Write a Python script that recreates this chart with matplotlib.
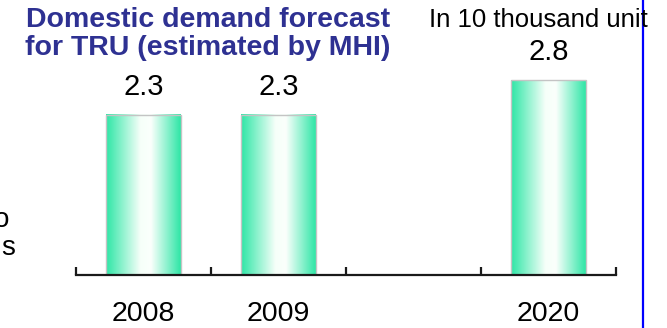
import numpy as np
import matplotlib
matplotlib.use("Agg")
import matplotlib.pyplot as plt
from matplotlib.colors import LinearSegmentedColormap

plt.rcParams['font.family'] = ['Liberation Sans', 'DejaVu Sans']

# Demand figures (in 10 thousand units); the third slot is an empty gap
years = ["2008", "2009", "", "2020"]
demand = [2.3, 2.3, np.nan, 2.8]
value_labels = ["2.3", "2.3", "", "2.8"]

title = "Domestic demand forecast\nfor TRU (estimated by MHI)"
unit_note = "In 10 thousand unit"

W, H = 667, 328
fig = plt.figure(figsize=(W / 100, H / 100), dpi=100)

# axes placed in pixel terms
ax_left, ax_right = 76, 616
ax_base = 275
ymax = 3.5
px_per_unit = 69.6
ax_h = ymax * px_per_unit
ax = fig.add_axes([ax_left / W, (H - ax_base) / H, (ax_right - ax_left) / W, ax_h / H])
ax.patch.set_alpha(0)

x = np.arange(len(years))
bars = ax.bar(x, demand, width=0.555, facecolor='none', edgecolor='#c4c4c4',
              linewidth=1.0, zorder=3)

# cylinder-style shading inside each bar
green = '#2ee6a6'
cmap = LinearSegmentedColormap.from_list(
    'cyl', [(0.0, green), (0.46, '#f6fff9'), (0.6, '#fbfffc'), (1.0, green)])
grad = np.linspace(0, 1, 256).reshape(1, -1)
for rect, lab in zip(bars, value_labels):
    h = rect.get_height()
    if not np.isfinite(h):
        continue
    x0, w = rect.get_x(), rect.get_width()
    ax.imshow(grad, extent=(x0, x0 + w, 0, h), aspect='auto', cmap=cmap,
              interpolation='bilinear', zorder=2)
    ax.annotate(lab, (x0 + w / 2, h), xytext=(0, 10), textcoords='offset points',
                ha='center', va='bottom', fontsize=21, color='black')

ax.set_xlim(-0.5, len(years) - 0.5)
ax.set_ylim(0, ymax)

for side in ('left', 'right', 'top'):
    ax.spines[side].set_visible(False)
ax.spines['bottom'].set_linewidth(1.6)
ax.spines['bottom'].set_color('#1a1a1a')
ax.spines['bottom'].set_zorder(4)
ax.set_yticks([])

# boundary ticks pointing up, year labels centred under each slot
ax.set_xticks(np.arange(len(years) + 1) - 0.5)
ax.set_xticklabels([])
ax.tick_params(axis='x', which='major', direction='in', length=6, width=1.6,
               color='#1a1a1a')
ax.set_xticks(x, minor=True)
ax.set_xticklabels(years, minor=True, fontsize=20.5)
ax.tick_params(axis='x', which='minor', length=0, pad=18.5)

fig.text(208 / W, 1 - 7 / H, title, ha='center', va='top', multialignment='center',
         fontsize=20.5, fontweight='bold', color='#2e3192', linespacing=1.1)
fig.text(429 / W, 1 - 8 / H, unit_note, ha='left', va='top', fontsize=18.5,
         color='black')

# fragments of side text cut off by the left edge
fig.text(9 / W, 1 - 220 / H, "o", ha='right', va='center', fontsize=20)
fig.text(15 / W, 1 - 248 / H, "s", ha='right', va='center', fontsize=20)

# blue divider on the right
fig.add_artist(plt.Line2D([642.7 / W, 642.7 / W], [0, 1], color='#0000ff',
                          linewidth=1.6, transform=fig.transFigure))

fig.savefig('out.png', dpi=100)
